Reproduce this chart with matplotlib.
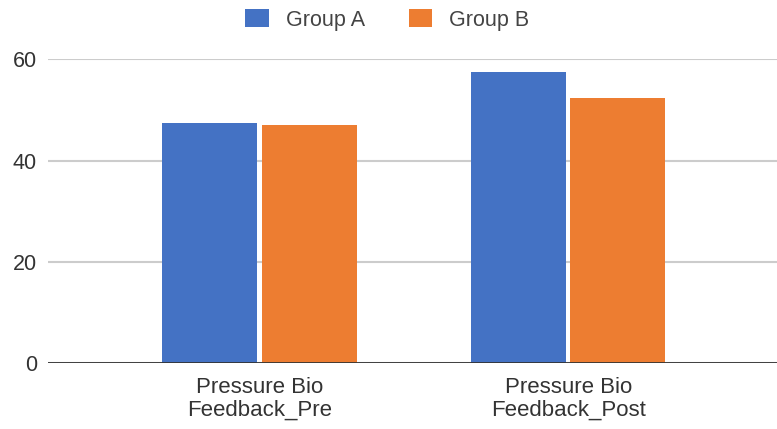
import numpy as np
import matplotlib.pyplot as plt

# bar values per category
categories = ["Pressure Bio\nFeedback_Pre", "Pressure Bio\nFeedback_Post"]
group_a = [47.5, 57.4]
group_b = [47.0, 52.4]
yticks = [0, 20, 40, 60]

plt.rcParams['font.family'] = ['Liberation Sans', 'DejaVu Sans']

fig = plt.figure(figsize=(7.77, 4.29), dpi=100)
ax = fig.add_axes([48/777, 0.153, 1 - 48/777, 0.709])

x = np.arange(len(categories))
w = 0.308
gap = 0.007
ax.bar(x - w/2 - gap, group_a, w, color='#4472c4', label='Group A', zorder=3)
ax.bar(x + w/2 + gap, group_b, w, color='#ed7d31', label='Group B', zorder=3)

ax.set_xlim(-0.686, 1.677)
ax.set_ylim(0, 60)
ax.set_yticks(yticks)
ax.set_xticks(x)
ax.set_xticklabels(categories, fontsize=16, color='#333333', linespacing=1.12)
ax.tick_params(axis='y', labelsize=15.5, colors='#333333', length=0, pad=8)
ax.tick_params(axis='x', length=0, pad=10)

ax.grid(axis='y', color='#cccccc', linewidth=1.5, zorder=0)
ax.axhline(0, color='#333333', linewidth=2, zorder=4)
for s in ax.spines.values():
    s.set_visible(False)

ax.legend(loc='center', bbox_to_anchor=(0.4987, 1 - 20/429), bbox_transform=fig.transFigure,
          ncol=2, frameon=False, fontsize=15.5, handlelength=1.1, handleheight=0.9,
          handletextpad=0.8, columnspacing=2.0, labelcolor='#444444')

fig.savefig('out.png', dpi=100)
